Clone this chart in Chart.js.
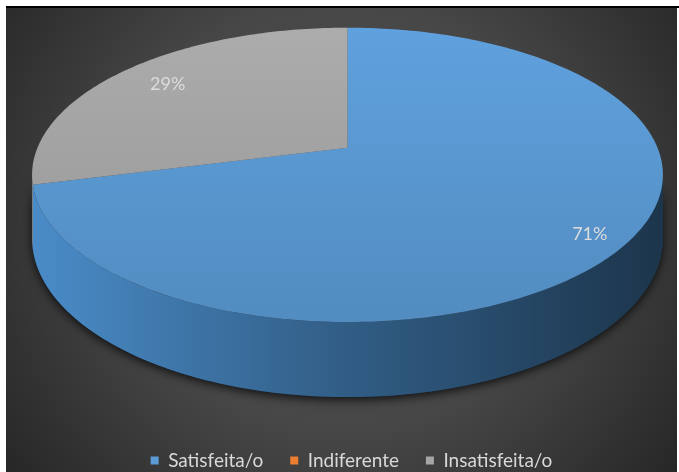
<!DOCTYPE html>
<html>
<head>
<meta charset="utf-8">
<script src="https://cdn.jsdelivr.net/npm/chart.js@4"></script>
<style>
  html, body { margin: 0; padding: 0; background: #fff; overflow: hidden; }
  #topRule { position: absolute; left: 6px; top: 6px; width: 673px; height: 2px; background: #000; }
  #wrap { position: absolute; left: 6px; top: 8px; width: 671px; height: 472px; }
</style>
</head>
<body>
<div id="topRule"></div>
<div id="wrap"><canvas id="pieChart"></canvas></div>
<script>
const categories = ["Satisfeita/o", "Indiferente", "Insatisfeita/o"];
const answers = [71, 0, 29];
const sliceColors = ["#5B9BD5", "#ED7D31", "#A5A5A5"];

// scale a hex colour by f, then push the channels apart by sat
function shade(hex, f, sat = 1) {
  const n = parseInt(hex.slice(1), 16);
  const rgb = [(n >> 16) & 255, (n >> 8) & 255, n & 255].map(v => v * f);
  const mean = (rgb[0] + rgb[1] + rgb[2]) / 3;
  const ch = rgb.map(v => Math.max(0, Math.min(255, Math.round(mean + (v - mean) * sat))));
  return "rgb(" + ch.join(",") + ")";
}

// tilted disc with a little perspective, built from the arc geometry
function makeProjector(arc) {
  const r = arc.outerRadius;
  const p = {
    cx: arc.x - 0.0193 * r, cy: arc.y - 0.3279 * r,
    a: 1.4906 * r, b: 0.6837 * r, h: 0.2947 * r, k: 0.1837
  };
  const fn = (theta, frac, drop) => {
    const s = Math.sin(theta) * frac;
    const w = 1 - p.k * s;
    return [p.cx + p.a * Math.cos(theta) * frac / w, p.cy + (p.b * s + drop * p.h) / w];
  };
  fn.p = p;
  return fn;
}

const STEP = Math.PI / 180;

function rimPath(ctx, proj, from, to, drop, moveFirst) {
  const n = Math.max(2, Math.ceil(Math.abs(to - from) / STEP));
  for (let i = 0; i <= n; i++) {
    const t = from + (to - from) * i / n;
    const [x, y] = proj(t, 1, drop);
    if (i === 0 && moveFirst) ctx.moveTo(x, y); else ctx.lineTo(x, y);
  }
}

// front-facing part of an angle range (the side wall that can be seen)
function visibleRange(s, e, k) {
  const lo = Math.asin(k), hi = Math.PI - Math.asin(k);
  for (const shift of [-2 * Math.PI, 0, 2 * Math.PI]) {
    const a = Math.max(s, lo + shift), b = Math.min(e, hi + shift);
    if (b > a) return [a, b];
  }
  return null;
}

const pie3d = {
  id: "pie3d",
  beforeDraw(chart) {
    const { ctx, width, height } = chart;
    const cx = width / 2, cy = height * 0.44;
    const g = ctx.createRadialGradient(cx, cy, 0, cx, cy, Math.hypot(cx, height - cy));
    g.addColorStop(0, "#4e4e4e");
    g.addColorStop(0.5, "#474747");
    g.addColorStop(1, "#262626");
    ctx.save();
    ctx.fillStyle = g;
    ctx.fillRect(0, 0, width, height);
    ctx.restore();
  },
  beforeDatasetsDraw(chart) {
    const ctx = chart.ctx;
    const arcs = chart.getDatasetMeta(0).data;
    const colors = chart.data.datasets[0].backgroundColor;
    const proj = makeProjector(arcs[0]);
    const p = proj.p;
    const left = p.cx - p.a * 1.02, right = p.cx + p.a * 1.02;

    // soft shadow under the front wall
    const lo = Math.asin(p.k), hi = Math.PI - Math.asin(p.k);
    ctx.save();
    ctx.shadowColor = "rgba(0,0,0,0.75)";
    ctx.shadowBlur = 10;
    ctx.shadowOffsetY = 3;
    ctx.beginPath();
    rimPath(ctx, proj, lo, hi, 0, true);
    rimPath(ctx, proj, hi, lo, 1, false);
    ctx.closePath();
    ctx.fillStyle = "#1d3350";
    ctx.fill();
    ctx.restore();

    // side walls
    arcs.forEach((arc, i) => {
      if (arc.endAngle - arc.startAngle <= 0) return;
      const vis = visibleRange(arc.startAngle, arc.endAngle, p.k);
      if (!vis) return;
      const g = ctx.createLinearGradient(left, 0, right, 0);
      g.addColorStop(0, shade(colors[i], 0.9, 1.15));
      g.addColorStop(0.5, shade(colors[i], 0.6, 1.15));
      g.addColorStop(1, shade(colors[i], 0.34, 1.15));
      ctx.beginPath();
      rimPath(ctx, proj, vis[0], vis[1], 0, true);
      rimPath(ctx, proj, vis[1], vis[0], 1, false);
      ctx.closePath();
      ctx.fillStyle = g;
      ctx.fill();
    });

    // top faces
    const topY = p.cy - p.b / (1 + p.k), botY = p.cy + p.b / (1 - p.k);
    arcs.forEach((arc, i) => {
      if (arc.endAngle - arc.startAngle <= 0) return;
      const g = ctx.createLinearGradient(0, topY, 0, botY);
      g.addColorStop(0, shade(colors[i], 1.04));
      g.addColorStop(1, shade(colors[i], 0.9));
      ctx.beginPath();
      ctx.moveTo(p.cx, p.cy);
      rimPath(ctx, proj, arc.startAngle, arc.endAngle, 0, false);
      ctx.closePath();
      ctx.fillStyle = g;
      ctx.fill();
    });

    // percentage labels
    const values = chart.data.datasets[0].data;
    const total = values.reduce((a, b) => a + b, 0);
    ctx.save();
    ctx.font = "18px Lato";
    ctx.fillStyle = "#dcdcdc";
    ctx.textAlign = "center";
    ctx.textBaseline = "middle";
    arcs.forEach((arc, i) => {
      if (!values[i]) return;
      const mid = (arc.startAngle + arc.endAngle) / 2;
      const [x, y] = proj(mid, i === 0 ? 0.89 : 0.8, 0);
      ctx.fillText(Math.round(values[i] / total * 100) + "%", x, y);
    });
    ctx.restore();
    return false;
  }
};

new Chart(document.getElementById("pieChart"), {
  type: "pie",
  data: {
    labels: categories,
    datasets: [{ data: answers, backgroundColor: sliceColors, borderWidth: 0 }]
  },
  options: {
    responsive: true,
    maintainAspectRatio: false,
    animation: false,
    layout: { padding: { left: 20, top: 0, right: 0, bottom: 0 } },
    plugins: {
      tooltip: { enabled: false },
      legend: {
        position: "bottom",
        labels: {
          color: "#d9d9d9",
          font: { family: "Lato", size: 19 },
          boxWidth: 8,
          boxHeight: 8,
          padding: 27
        }
      }
    }
  },
  plugins: [pie3d]
});
</script>
</body>
</html>
